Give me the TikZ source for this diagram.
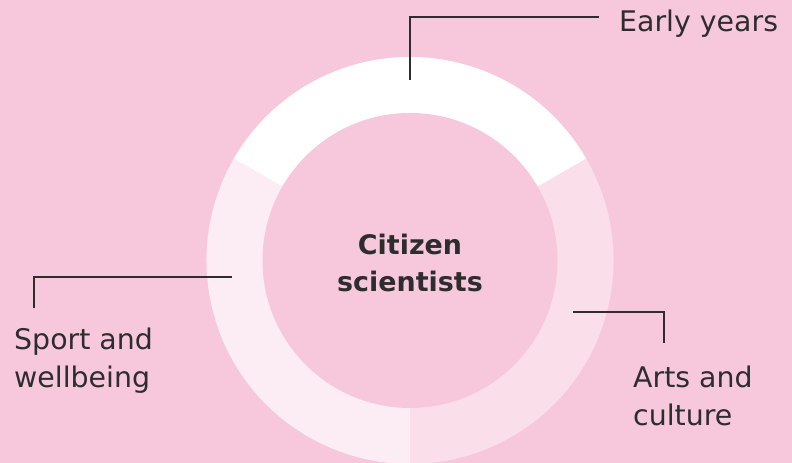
\documentclass[tikz,border=0pt]{standalone}
\usepackage{fontspec}
\setmainfont{DejaVu Sans}
\definecolor{bgpink}{RGB}{247,200,220}
\definecolor{artspink}{RGB}{250,222,233}
\definecolor{sportpink}{RGB}{251,237,243}
\definecolor{inkgray}{RGB}{45,45,45}
\tikzset{
	leader/.style = {draw=inkgray, line width=1.2pt},
	label/.style = {inner sep=0pt, anchor=base west, align=left, text=inkgray, font=\fontsize{28.5}{39}\selectfont},
}
\begin{document}
\begin{tikzpicture}[x=1bp, y=1bp]
	\useasboundingbox (0,0) rectangle (792,463);
	\fill[bgpink] (0,0) rectangle (792,463);

	\coordinate (O) at (410,202.5);

	% ring
	\fill[white] (O) -- ++(30:203.5) arc (30:150:203.5) -- cycle;
	\fill[artspink] (O) -- ++(30:203.5) arc (30:-90:203.5) -- cycle;
	\fill[sportpink] (O) -- ++(150:203.5) arc (150:270:203.5) -- cycle;
	\fill[bgpink] (O) circle (147.5);

	% base of a two-line node = last line
	\node (centre) [inner sep=0pt, anchor=base, align=center, text=inkgray, font=\fontsize{27}{38}\selectfont\bfseries] at (410,171) {Citizen\\scientists};

	\node (early) [label] at (619,431) {Early years};
	\node (sport) [label] at (14,75) {Sport and\\wellbeing};
	\node (arts) [label] at (633,37) {Arts and\\culture};

	\coordinate (early-in) at (410,383);
	\coordinate (early-out) at (599,446);
	\coordinate (sport-in) at (232,186);
	\coordinate (sport-out) at (34,155);
	\coordinate (arts-in) at (573,151);
	\coordinate (arts-out) at (664,120);

	\draw[leader] (early-in) |- (early-out);
	\draw[leader] (sport-in) -| (sport-out);
	\draw[leader] (arts-in) -| (arts-out);
\end{tikzpicture}
\end{document}
